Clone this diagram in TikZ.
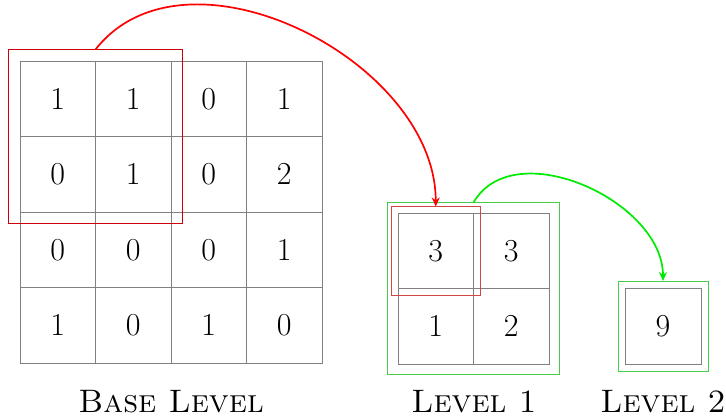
\documentclass[tikz,border=0pt]{standalone}
\usetikzlibrary{fit,arrows.meta}
\definecolor{boxred}{RGB}{205,0,10}
\definecolor{softred}{RGB}{210,70,70}
\definecolor{boxgreen}{RGB}{70,205,70}
\definecolor{arrowgreen}{RGB}{0,235,0}
\begin{document}
\begin{tikzpicture}[x=1pt,y=-1pt,
  cell/.style={draw=gray, line width=0.8pt, minimum size=75.5pt, inner sep=0pt,
    outer sep=0pt, font=\fontsize{32}{38}\selectfont},
  frame/.style={draw=#1, line width=1pt, inner sep=0pt, outer sep=0pt},
  link/.style={draw=#1, line width=1.7pt, -{Stealth[length=9pt,width=8pt]}},
  levellabel/.style={anchor=base, font=\fontsize{32.5}{38}\selectfont\scshape}]
\useasboundingbox (0,0) rectangle (726,418);

% base level: 4x4 grid
\foreach \row/\vals in {1/{1,1,0,1}, 2/{0,1,0,2}, 3/{0,0,0,1}, 4/{1,0,1,0}} {
  \foreach \v [count=\col] in \vals {
    \node[cell] (b-\row-\col) at ({20+75.5*(\col-0.5)}, {61+75.5*(\row-0.5)}) {\v};
  }
}

% level 1: 2x2 grid
\foreach \row/\vals in {1/{3,3}, 2/{1,2}} {
  \foreach \v [count=\col] in \vals {
    \node[cell] (l-\row-\col) at ({398+75.5*(\col-0.5)}, {213+75.5*(\row-0.5)}) {\v};
  }
}

% level 2: single cell
\node[cell, minimum size=76pt] (t) at (663,326) {9};

% selection and level frames
\node[frame=boxred, fit=(b-1-1)(b-2-2), inner sep=11.5pt] (sel0) {};
\node[frame=boxgreen, fit=(l-1-1)(l-2-2), inner sep=10.5pt] (box1) {};
\node[frame=softred, fit=(l-1-1), inner sep=6.5pt] (sel1) {};
\node[frame=boxgreen, fit=(t), inner sep=7pt] (box2) {};

% reduction arrows
\draw[link=red] (sel0.north) to[out=52, in=90] (sel1.north);
\draw[link=arrowgreen] (box1.north) to[out=60, in=90] (box2.north);

% captions
\node[levellabel] (lab0) at (171,412) {Base Level};
\node[levellabel] (lab1) at (474,412) {Level 1};
\node[levellabel] (lab2) at (663,412) {Level 2};
\end{tikzpicture}
\end{document}
